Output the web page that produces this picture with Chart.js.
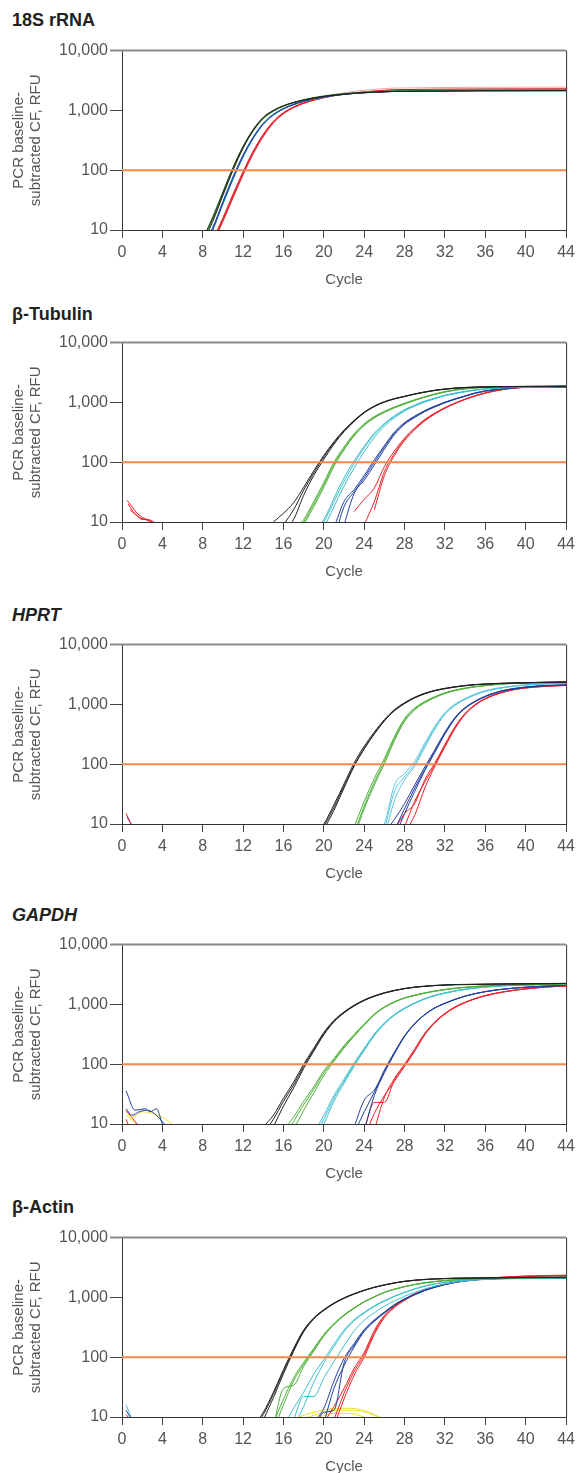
<!DOCTYPE html>
<html>
<head>
<meta charset="utf-8">
<script src="https://cdn.jsdelivr.net/npm/chart.js@4.4.1/dist/chart.umd.min.js"></script>
<style>
body { margin: 0; background: #fff; width: 580px; height: 1473px; position: relative; font-family: "Liberation Sans", Arial, sans-serif; }
.title { position: absolute; left: 12px; font-weight: bold; font-size: 18px; color: #222; }
canvas { position: absolute; left: 0; }
</style>
</head>
<body>
<div class="title" style="top:10px">18S rRNA</div>
<div class="title" style="top:304px">β-Tubulin</div>
<div class="title" style="top:605px"><i>HPRT</i></div>
<div class="title" style="top:905px"><i>GAPDH</i></div>
<div class="title" style="top:1197px">β-Actin</div>
<canvas id="c18s" width="580" height="253" style="top:39px"></canvas>
<canvas id="ctub" width="580" height="253" style="top:331px"></canvas>
<canvas id="chprt" width="580" height="253" style="top:633px"></canvas>
<canvas id="cgapdh" width="580" height="253" style="top:933px"></canvas>
<canvas id="cactin" width="580" height="253" style="top:1226px"></canvas>
<script>
// ---------------- axes ----------------
const yTicks = [10, 100, 1000, 10000];
const threshold = 100;

// ---------------- 18S rRNA (values per cycle, from start cycle) ----------------
const s18Start = [8, 8, 8, 8, 8, 8, 8, 8, 9, 9, 9, 9];
const s18Curves = [
  [7, 16, 42, 110, 250, 480, 770, 1000, 1200, 1360, 1500, 1620, 1720, 1810, 1880, 1940, 1990, 2030, 2060, 2090],
  [6, 14, 38, 100, 235, 460, 750, 990, 1190, 1350, 1490, 1610, 1710, 1800, 1870, 1930, 1980, 2020, 2050, 2080],
  [7, 17, 44, 112, 250, 470, 740, 980, 1190, 1360, 1510, 1640, 1750, 1840, 1910, 1970, 2020, 2060, 2090, 2110],
  [6, 15, 39, 102, 235, 450, 720, 960, 1170, 1340, 1490, 1620, 1730, 1820, 1890, 1950, 2000, 2040, 2070, 2100],
  [5, 11, 30, 78, 180, 360, 610, 860, 1080, 1270, 1430, 1570, 1690, 1790, 1870, 1930, 1980, 2020, 2050, 2080],
  [4.5, 10, 28, 72, 170, 345, 590, 840, 1060, 1250, 1410, 1550, 1670, 1770, 1850, 1920, 1970, 2010, 2040, 2070],
  [5, 11, 29, 75, 175, 350, 600, 850, 1070, 1260, 1420, 1560, 1680, 1780, 1860, 1930, 1980, 2020, 2060, 2090],
  [4.5, 10.5, 27, 70, 165, 335, 580, 830, 1050, 1240, 1400, 1540, 1660, 1760, 1850, 1920, 1970, 2010, 2050, 2080],
  [7, 16, 40, 95, 210, 400, 660, 920, 1150, 1340, 1500, 1640, 1760, 1860, 1940, 2000, 2060, 2100, 2140],
  [6, 14, 35, 85, 190, 370, 620, 880, 1110, 1310, 1480, 1630, 1760, 1860, 1950, 2020, 2080, 2130, 2170],
  [6.5, 15, 37, 90, 200, 385, 640, 900, 1130, 1320, 1490, 1640, 1770, 1880, 1970, 2040, 2110, 2170, 2220],
  [6, 14, 34, 82, 185, 360, 610, 880, 1120, 1330, 1520, 1690, 1840, 1970, 2080, 2170, 2250, 2310, 2360]
];
const s18End = [2150, 2120, 2180, 2200, 2160, 2200, 2230, 2180, 2180, 2230, 2300, 2450];

// ---------------- beta-Tubulin ----------------
const tubBlackStart = [15, 16, 16];
const tubBlack = [
  [10, 14, 21, 38, 72, 130, 220, 345, 500, 690, 870, 1030, 1160, 1270, 1390, 1500, 1600, 1680, 1740, 1780, 1810],
  [9, 16, 34, 66, 122, 210, 335, 490, 680, 860, 1020, 1150, 1260, 1380, 1490, 1590, 1670, 1730, 1770, 1800],
  [7, 11, 28, 60, 112, 200, 325, 480, 670, 850, 1010, 1140, 1250, 1370, 1480, 1580, 1660, 1720, 1760, 1790]
];
const tubBlackEnd = [1870, 1860, 1850];
const tubGreenStart = [17, 17, 18];
const tubGreen = [
  [7, 11, 22, 46, 100, 180, 300, 440, 580, 710, 840, 970, 1110, 1250, 1390, 1520, 1630, 1700, 1760, 1800],
  [6, 10, 20, 42, 92, 170, 285, 425, 565, 695, 825, 955, 1090, 1230, 1370, 1500, 1610, 1690, 1750, 1790],
  [9, 18, 38, 85, 160, 275, 410, 550, 680, 810, 940, 1080, 1220, 1360, 1490, 1600, 1680, 1740, 1780]
];
const tubGreenEnd = [1880, 1870, 1860];
const tubCyanStart = [19, 19, 20];
const tubCyan = [
  [7, 11, 25, 55, 105, 185, 305, 445, 600, 760, 900, 1050, 1180, 1320, 1430, 1530, 1620, 1690, 1740, 1780],
  [6, 10, 22, 48, 95, 175, 290, 430, 585, 745, 890, 1040, 1170, 1310, 1420, 1520, 1610, 1680, 1730, 1770],
  [8, 18, 40, 80, 150, 260, 400, 555, 715, 865, 1010, 1150, 1290, 1400, 1500, 1600, 1670, 1720, 1760]
];
const tubCyanEnd = [1840, 1830, 1850];
const tubBlueStart = [21, 21, 22];
const tubBlue = [
  [8, 22, 35, 60, 110, 190, 320, 460, 590, 730, 870, 1010, 1150, 1290, 1440, 1560, 1650, 1720, 1770, 1800],
  [5, 18, 32, 55, 100, 180, 305, 445, 575, 715, 855, 1000, 1140, 1280, 1430, 1550, 1640, 1710, 1760, 1790],
  [9, 30, 50, 90, 165, 290, 430, 560, 700, 840, 985, 1125, 1265, 1415, 1540, 1630, 1700, 1750, 1790]
];
const tubBlueEnd = [1830, 1820, 1810];
const tubRedStart = [23, 25, 24];
const tubRed = [
  [15, 24, 37, 85, 155, 255, 375, 520, 665, 820, 980, 1140, 1300, 1450, 1580, 1680, 1750, 1790],
  [16, 60, 130, 230, 350, 490, 640, 800, 960, 1120, 1280, 1430, 1560, 1670, 1740, 1780],
  [9, 22, 70, 140, 240, 360, 505, 650, 805, 965, 1125, 1285, 1435, 1565, 1670, 1745, 1785]
];
const tubRedEnd = [1810, 1800, 1800];
const tubNoiseCycles = [[0.5, 1, 1.5, 2, 2.5, 3], [0.6, 1.1, 1.7, 2.3, 2.9], [0.8, 1.4, 2.0, 2.6, 3.2]];
const tubNoiseRfu = [[23, 18, 14, 12, 11, 10], [20, 15, 12, 11, 10], [16, 13, 11, 11, 10]];

// ---------------- HPRT ----------------
const hprtBlackStart = [19, 20, 20];
const hprtBlack = [
  [6, 10, 21, 47, 105, 200, 345, 560, 820, 1070, 1320, 1540, 1720, 1860, 1980, 2080, 2150, 2200, 2240, 2270],
  [9, 19, 43, 96, 185, 325, 535, 790, 1040, 1290, 1510, 1700, 1840, 1960, 2060, 2140, 2190, 2230, 2260],
  [8, 17, 40, 92, 180, 320, 530, 785, 1035, 1285, 1505, 1690, 1830, 1950, 2050, 2130, 2180, 2220, 2250]
];
const hprtBlackEnd = [2380, 2350, 2330];
const hprtGreenStart = [23, 23, 23];
const hprtGreen = [
  [9, 24, 58, 125, 290, 580, 870, 1120, 1350, 1560, 1740, 1880, 1990, 2080, 2160, 2220, 2270, 2310],
  [7, 20, 50, 112, 270, 550, 840, 1090, 1320, 1540, 1720, 1860, 1970, 2070, 2150, 2210, 2260, 2300],
  [6, 18, 45, 102, 250, 520, 810, 1060, 1300, 1520, 1700, 1850, 1960, 2060, 2140, 2200, 2250, 2290]
];
const hprtGreenEnd = [2420, 2400, 2380];
const hprtCyanStart = [25, 26, 26];
const hprtCyan = [
  [6, 10, 45, 70, 112, 225, 430, 730, 1010, 1260, 1490, 1690, 1850, 1970, 2060, 2130, 2180, 2220, 2250, 2270],
  [8, 35, 62, 100, 205, 405, 700, 980, 1230, 1460, 1660, 1820, 1940, 2040, 2110, 2160, 2200, 2230, 2250],
  [6, 25, 55, 92, 190, 385, 680, 960, 1210, 1440, 1640, 1800, 1930, 2030, 2100, 2150, 2190, 2220, 2240]
];
const hprtCyanEnd = [2280, 2260, 2250];
const hprtBlueStart = [26, 27, 27];
const hprtBlue = [
  [7, 12, 22, 45, 90, 175, 345, 610, 890, 1140, 1380, 1580, 1750, 1870, 1960, 2030, 2080, 2110, 2130],
  [8, 18, 40, 82, 165, 330, 590, 870, 1120, 1360, 1560, 1730, 1850, 1940, 2010, 2060, 2090, 2110],
  [6, 15, 35, 78, 158, 320, 580, 860, 1110, 1350, 1550, 1720, 1840, 1930, 2000, 2050, 2080, 2100]
];
const hprtBlueEnd = [2140, 2120, 2110];
const hprtRedStart = [27, 28, 28];
const hprtRed = [
  [8, 15, 22, 55, 105, 215, 425, 710, 1000, 1260, 1480, 1660, 1800, 1900, 1970, 2020, 2060, 2090],
  [9, 24, 50, 98, 205, 410, 695, 985, 1245, 1465, 1645, 1790, 1890, 1960, 2010, 2050, 2080],
  [7, 14, 40, 92, 195, 395, 680, 970, 1230, 1450, 1630, 1780, 1880, 1950, 2000, 2040, 2070]
];
const hprtRedEnd = [2100, 2090, 2080];
const hprtNoiseCycles = [[0.4, 0.9], [0.5, 0.9]];
const hprtNoiseRfu = [[15, 10], [13, 10]];

// ---------------- GAPDH ----------------
const gapBlackStart = [14, 14, 15];
const gapBlack = [
  [9, 14, 27, 50, 100, 185, 340, 540, 750, 970, 1190, 1390, 1570, 1720, 1850, 1950, 2020, 2080, 2120, 2150],
  [7, 12, 24, 45, 92, 175, 325, 525, 735, 955, 1175, 1375, 1555, 1710, 1840, 1940, 2010, 2070, 2110, 2140],
  [9, 20, 40, 85, 165, 310, 510, 720, 940, 1160, 1360, 1540, 1700, 1830, 1930, 2000, 2060, 2100, 2130]
];
const gapBlackEnd = [2250, 2240, 2230];
const gapGreenStart = [16, 16, 17];
const gapGreen = [
  [8, 13, 24, 42, 78, 125, 205, 315, 470, 690, 910, 1110, 1290, 1430, 1560, 1680, 1780, 1870, 1940, 2000, 2050],
  [6, 11, 21, 38, 72, 118, 195, 305, 460, 680, 900, 1100, 1280, 1420, 1550, 1670, 1770, 1860, 1930, 1990, 2040],
  [8, 17, 33, 65, 112, 185, 295, 450, 670, 890, 1090, 1270, 1410, 1540, 1660, 1760, 1850, 1920, 1980, 2030]
];
const gapGreenEnd = [2230, 2220, 2210];
const gapCyanStart = [19, 19, 19];
const gapCyan = [
  [7, 14, 30, 56, 105, 185, 320, 490, 680, 870, 1060, 1250, 1420, 1560, 1690, 1800, 1890, 1960, 2020, 2070],
  [6, 12, 27, 52, 98, 178, 310, 480, 670, 860, 1050, 1240, 1410, 1550, 1680, 1790, 1880, 1950, 2010, 2060],
  [5, 10, 24, 48, 92, 170, 300, 470, 660, 850, 1040, 1230, 1400, 1540, 1670, 1780, 1870, 1940, 2000, 2050]
];
const gapCyanEnd = [2200, 2190, 2180];
const gapBlueStart = [23, 23, 24];
const gapBlue = [
  [9, 25, 37, 75, 155, 295, 475, 675, 875, 1045, 1215, 1375, 1515, 1635, 1735, 1815, 1885, 1935, 1985, 2025, 2055, 2080],
  [7, 16, 34, 80, 160, 300, 480, 680, 880, 1050, 1220, 1380, 1520, 1640, 1740, 1820, 1890, 1940, 1990, 2030, 2060, 2080],
  [8, 30, 72, 150, 290, 470, 670, 870, 1040, 1210, 1370, 1510, 1630, 1730, 1810, 1880, 1930, 1980, 2020, 2050, 2070]
];
const gapBlueEnd = [2080, 2080, 2070];
const gapRedStart = [24, 24, 25];
const gapRed = [
  [8, 23, 23, 55, 95, 170, 320, 500, 700, 900, 1080, 1250, 1400, 1530, 1640, 1740, 1820, 1890, 1950, 2000, 2040],
  [6, 15, 30, 52, 92, 165, 310, 490, 690, 890, 1070, 1240, 1390, 1520, 1630, 1730, 1810, 1880, 1940, 1990, 2030],
  [8, 28, 58, 100, 180, 330, 510, 710, 910, 1090, 1260, 1410, 1540, 1650, 1750, 1830, 1900, 1960, 2010, 2050]
];
const gapRedEnd = [2040, 2030, 2050];
const gapNoiseCycles = [[0.4, 1.3, 2.3, 2.8, 3.4, 4.0], [0.4, 1.0, 1.7, 2.5, 3.2, 4.2], [0.4, 1.0, 2.0, 3.0, 4.0, 5.0], [0.5, 0.9, 1.4], [0.4, 0.8, 1.5], [0.4, 0.6]];
const gapNoiseRfu = [[36, 17, 18, 16, 18, 10], [18, 14, 16, 17, 15, 10], [16, 13, 16, 15, 13, 10], [14, 12, 10], [17, 14, 10], [12, 10]];

// ---------------- beta-Actin ----------------
const actBlackStart = [13, 13, 14];
const actBlack = [
  [7, 12, 26, 62, 140, 285, 455, 625, 805, 985, 1155, 1325, 1485, 1625, 1755, 1865, 1945, 2005, 2045, 2075, 2100],
  [6, 11, 24, 58, 132, 275, 445, 615, 795, 975, 1145, 1315, 1475, 1615, 1745, 1855, 1935, 1995, 2035, 2065, 2090],
  [9, 21, 53, 125, 265, 435, 605, 785, 965, 1135, 1305, 1465, 1605, 1735, 1845, 1925, 1985, 2025, 2055, 2080]
];
const actBlackEnd = [2180, 2170, 2160];
const actGreenStart = [15, 15, 15];
const actGreen = [
  [8, 20, 45, 82, 140, 240, 365, 510, 670, 850, 1030, 1220, 1380, 1520, 1650, 1760, 1850, 1920, 1980, 2020, 2050, 2080],
  [6, 16, 40, 76, 133, 232, 357, 502, 662, 842, 1022, 1212, 1372, 1512, 1642, 1752, 1842, 1912, 1972, 2012, 2042, 2070],
  [7, 30, 34, 70, 126, 225, 350, 495, 655, 835, 1015, 1205, 1365, 1505, 1635, 1745, 1835, 1905, 1965, 2005, 2035, 2063]
];
const actGreenEnd = [2170, 2160, 2150];
const actCyanStart = [16, 17, 17];
const actCyan = [
  [7, 14, 26, 52, 92, 165, 285, 425, 565, 725, 885, 1055, 1225, 1395, 1555, 1695, 1805, 1885, 1955, 2005, 2045, 2075],
  [9, 22, 22, 45, 85, 155, 275, 415, 555, 715, 875, 1045, 1215, 1385, 1545, 1685, 1795, 1875, 1945, 1995, 2035],
  [7, 15, 38, 80, 150, 265, 405, 545, 705, 865, 1035, 1205, 1375, 1535, 1675, 1785, 1865, 1935, 1985, 2025, 2060]
];
const actCyanEnd = [2130, 2120, 2120];
const actBlueStart = [19, 19, 20];
const actBlue = [
  [8, 14, 40, 95, 170, 290, 420, 570, 760, 950, 1130, 1320, 1500, 1660, 1800, 1900, 1980, 2030, 2060, 2080],
  [6, 12, 13, 80, 158, 278, 408, 558, 748, 938, 1118, 1308, 1488, 1648, 1788, 1890, 1970, 2020, 2050, 2070],
  [8, 30, 72, 148, 268, 398, 548, 738, 928, 1108, 1298, 1478, 1638, 1778, 1880, 1960, 2010, 2040, 2060]
];
const actBlueEnd = [2090, 2080, 2070];
const actRedStart = [20, 21, 21];
const actRed = [
  [8, 15, 30, 65, 120, 280, 500, 720, 930, 1150, 1350, 1520, 1680, 1810, 1920, 2010, 2080, 2150, 2200, 2240, 2280, 2300, 2320, 2340, 2350],
  [9, 25, 58, 110, 260, 480, 700, 910, 1130, 1330, 1500, 1660, 1790, 1900, 1990, 2060, 2130, 2180, 2220, 2260, 2280, 2300, 2320, 2330],
  [7, 20, 50, 100, 240, 460, 680, 890, 1110, 1310, 1480, 1640, 1770, 1880, 1970, 2040, 2110, 2160, 2200, 2240, 2260, 2280, 2300, 2310]
];
const actRedEnd = [2350, 2330, 2310];
const actYellowCycles = [[17.5, 19, 20.5, 22, 23.5, 24.5, 25.5], [18.5, 20, 21.5, 23, 24.5, 25.3], [19.5, 21, 22.5, 24]];
const actYellowRfu = [[10, 12, 13.5, 14, 13.5, 12, 10], [10, 12, 13, 13, 11.5, 10], [10, 11.5, 11.5, 10]];
const actNoiseCycles = [[0.4, 0.7, 0.9], [0.4, 0.8], [0.4, 0.6]];
const actNoiseRfu = [[16, 12, 10], [13, 10], [11, 10]];

// ---------------- drawing ----------------
const BLACK = '#222222', GREEN = '#4fb03a', CYAN = '#3fbfcc', BLUE = '#22409e',
      RED = '#e8232b', PINK = '#f4a3aa', YELLOW = '#ece22a', ORANGE = '#f4884f';

function curves(starts, reps, ends, color) {
  return reps.map((vals, i) => {
    const pts = vals.map((v, k) => ({ x: starts[i] + k, y: v }));
    if (pts[pts.length - 1].x < 44) pts.push({ x: 44, y: ends[i] });
    return { data: pts, borderColor: color };
  });
}

function noise(cycles, rfu, colors) {
  return cycles.map((xs, i) => ({
    data: xs.map((x, k) => ({ x: x, y: rfu[i][k] })),
    borderColor: colors[i]
  }));
}

function thresholdLine() {
  return {
    data: [{ x: 0, y: threshold }, { x: 44, y: threshold }],
    borderColor: ORANGE, borderWidth: 2, cubicInterpolationMode: 'default', tension: 0
  };
}

const frame = {
  id: 'frame',
  afterDraw(chart) {
    const a = chart.chartArea, g = chart.ctx;
    g.save();
    g.strokeStyle = '#8a8a8a';
    g.lineWidth = 2;
    g.beginPath(); g.moveTo(a.left - 12, a.top); g.lineTo(a.right, a.top); g.stroke();
    g.strokeStyle = '#333';
    g.lineWidth = 1;
    g.beginPath(); g.moveTo(a.right + 0.5, a.top); g.lineTo(a.right + 0.5, a.bottom); g.stroke();
    g.restore();
  }
};

const tickFont = { family: '"Liberation Sans", Arial, sans-serif', size: 16 };
const titleFont = { family: '"Liberation Sans", Arial, sans-serif', size: 15, lineHeight: 1.15 };

function makeChart(id, sets) {
  new Chart(document.getElementById(id), {
    type: 'line',
    data: { datasets: [thresholdLine()].concat(sets) },
    options: {
      responsive: false,
      animation: false,
      layout: { padding: { top: 10, right: 10, left: 0, bottom: 0 } },
      plugins: { legend: { display: false }, tooltip: { enabled: false } },
      elements: {
        point: { radius: 0 },
        line: { borderWidth: 1, cubicInterpolationMode: 'monotone', fill: false }
      },
      scales: {
        x: {
          type: 'linear', min: 0, max: 44,
          ticks: { stepSize: 4, color: '#555', font: tickFont, padding: 5, maxRotation: 0 },
          grid: { display: true, drawOnChartArea: false, tickLength: 8, color: '#444' },
          border: { color: '#333', width: 1 },
          title: { display: true, text: 'Cycle', color: '#555', font: titleFont, padding: { top: 5 } },
          afterFit: s => { s.height = 62; }
        },
        y: {
          type: 'logarithmic', min: 10, max: 10000,
          afterBuildTicks: s => { s.ticks = yTicks.map(v => ({ value: v })); },
          ticks: { color: '#555', font: tickFont, padding: 2, callback: v => v.toLocaleString('en-US') },
          grid: { display: true, drawOnChartArea: false, tickLength: 12, color: '#444' },
          border: { color: '#333', width: 1 },
          title: { display: true, text: ['PCR baseline-', 'subtracted CF, RFU'], color: '#555', font: titleFont, padding: { top: 10, bottom: 0 } },
          afterFit: s => { s.width = 122; }
        }
      }
    },
    plugins: [frame]
  });
}

const s18Colors = [BLACK, BLACK, GREEN, GREEN, BLUE, BLUE, CYAN, CYAN, RED, RED, '#b81c24', PINK];
makeChart('c18s', s18Curves.map((vals, i) => curves([s18Start[i]], [vals], [s18End[i]], s18Colors[i])[0]));

makeChart('ctub', [].concat(
  curves(tubBlackStart, tubBlack, tubBlackEnd, BLACK),
  curves(tubGreenStart, tubGreen, tubGreenEnd, GREEN),
  curves(tubCyanStart, tubCyan, tubCyanEnd, CYAN),
  curves(tubBlueStart, tubBlue, tubBlueEnd, BLUE),
  curves(tubRedStart, tubRed, tubRedEnd, RED),
  noise(tubNoiseCycles, tubNoiseRfu, [RED, RED, RED])
));

makeChart('chprt', [].concat(
  curves(hprtBlackStart, hprtBlack, hprtBlackEnd, BLACK),
  curves(hprtGreenStart, hprtGreen, hprtGreenEnd, GREEN),
  curves(hprtCyanStart, hprtCyan, hprtCyanEnd, '#5cc6df'),
  curves(hprtBlueStart, hprtBlue, hprtBlueEnd, BLUE),
  curves(hprtRedStart, hprtRed, hprtRedEnd, RED),
  noise(hprtNoiseCycles, hprtNoiseRfu, [RED, BLUE])
));

makeChart('cgapdh', [].concat(
  curves(gapBlackStart, gapBlack, gapBlackEnd, BLACK),
  curves(gapGreenStart, gapGreen, gapGreenEnd, GREEN),
  curves(gapCyanStart, gapCyan, gapCyanEnd, CYAN),
  curves(gapBlueStart, gapBlue, gapBlueEnd, BLUE),
  curves(gapRedStart, gapRed, gapRedEnd, RED),
  noise(gapNoiseCycles, gapNoiseRfu, [BLUE, BLUE, YELLOW, YELLOW, RED, RED])
));

makeChart('cactin', [].concat(
  curves(actBlackStart, actBlack, actBlackEnd, BLACK),
  curves(actGreenStart, actGreen, actGreenEnd, GREEN),
  curves(actCyanStart, actCyan, actCyanEnd, CYAN),
  curves(actBlueStart, actBlue, actBlueEnd, BLUE),
  curves(actRedStart, actRed, actRedEnd, RED),
  noise(actYellowCycles, actYellowRfu, [YELLOW, YELLOW, YELLOW]),
  noise(actNoiseCycles, actNoiseRfu, [CYAN, BLUE, RED])
));
</script>
</body>
</html>
